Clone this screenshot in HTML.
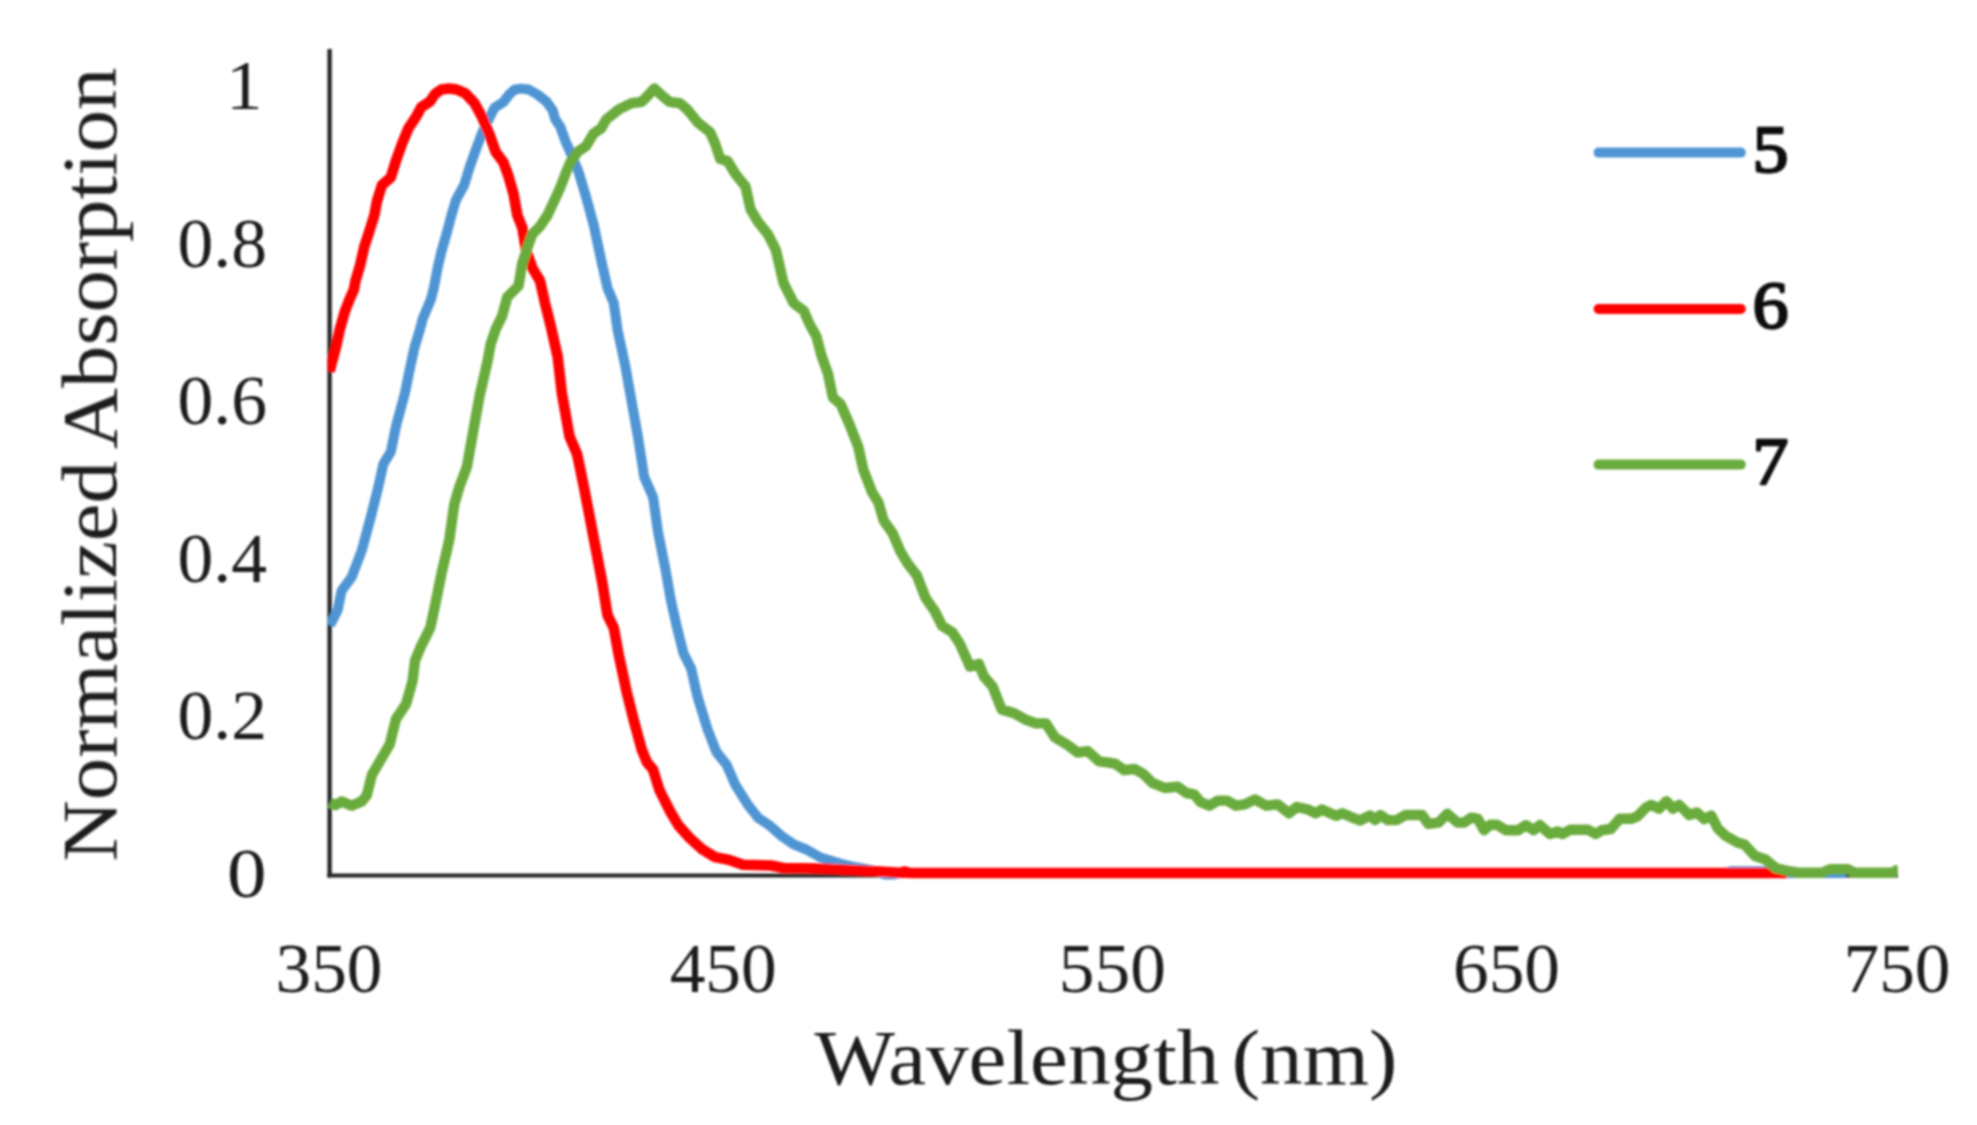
<!DOCTYPE html>
<html lang="en">
<head>
<meta charset="utf-8">
<title>Normalized Absorption vs Wavelength</title>
<style>
  html, body { margin:0; padding:0; background:#ffffff; }
  body { width:1977px; height:1125px; overflow:hidden; }
  svg { display:block; }
  text { font-family: 'Liberation Serif', 'DejaVu Serif', serif; fill:#1c1c1c; }
  .tick { font-size:69px; }
  .title { font-size:78px; }
  .leg text { font-size:67px; font-weight:normal; fill:#101010; stroke:#101010; stroke-width:2.3px; stroke-linejoin:round; }
  .curve { fill:none; stroke-linejoin:round; stroke-linecap:butt; }
</style>
</head>
<body>
<svg width="1977" height="1125" viewBox="0 0 1977 1125">
  <defs>
    <filter id="soft" x="-2%" y="-2%" width="104%" height="104%"><feGaussianBlur stdDeviation="0.9"/></filter>
    <clipPath id="plot"><rect x="327.5" y="40" width="1570.5" height="850"/></clipPath>
  </defs>
  <rect x="0" y="0" width="1977" height="1125" fill="#ffffff"/>
  <g filter="url(#soft)">

  <!-- axes -->
  <line x1="329.6" y1="49" x2="329.6" y2="877.5" stroke="#262626" stroke-width="4.4"/>
  <line x1="327.4" y1="875.5" x2="1898" y2="875.5" stroke="#262626" stroke-width="4"/>

  <!-- series -->
  <g clip-path="url(#plot)">
    <polyline class="curve" stroke="#4f95d3" stroke-width="10" points="330.0,625.3 337.7,610.0 341.5,590.9 351.7,577.0 361.8,550.4 370.7,517.4 378.3,487.0 383.3,464.2 390.9,451.6 396.0,426.3 404.9,393.3 409.6,369.9 414.6,346.9 419.9,329.8 422.8,318.4 427.4,307.8 431.0,299.0 433.8,288.0 437.6,268.1 441.4,251.7 446.5,234.0 451.5,215.0 455.9,200.1 464.2,185.0 469.2,168.5 476.8,147.0 483.1,130.6 489.4,117.9 494.5,107.8 503.4,102.1 509.7,93.9 514.7,89.5 521.6,88.6 528.6,89.5 537.5,94.5 546.4,101.5 552.7,110.3 555.2,119.2 560.3,126.8 565.3,140.7 569.7,150.8 578.4,171.4 586.0,196.8 593.6,224.6 601.2,260.1 607.5,288.0 613.8,303.2 617.6,330.0 625.2,365.5 631.5,400.9 637.9,436.4 644.2,476.9 653.1,497.2 658.1,532.6 665.7,570.6 670.8,600.0 677.1,627.9 683.5,653.2 691.1,668.4 697.4,696.3 707.5,729.2 716.4,752.0 726.5,764.6 735.4,784.9 748.1,805.2 758.2,817.8 769.6,825.4 781.0,835.6 793.7,844.4 806.3,849.5 820.5,857.5 840.8,863.8 857.0,867.5 875.0,871.0 885.0,874.5 893.0,874.5 900.0,873.0 1725.0,873.0 1731.0,871.2 1764.0,871.2 1770.0,873.0 1846.0,873.0"/>
    <polyline class="curve" stroke="#fe0000" stroke-width="10.6" points="329.6,371.5 331.4,364.0 333.6,356.0 336.0,347.0 339.7,329.8 344.9,311.3 349.9,298.5 353.8,290.0 355.5,280.8 360.0,265.6 364.3,246.6 369.3,231.4 374.4,215.0 376.9,201.4 382.0,185.0 390.8,177.4 395.9,160.9 402.2,143.2 408.5,128.1 416.1,116.7 421.2,107.2 430.0,101.5 435.1,93.9 441.4,89.5 449.0,88.6 456.6,89.5 465.4,93.3 474.3,102.8 481.9,116.7 489.4,134.4 495.8,152.1 503.4,162.2 508.4,176.1 513.5,193.8 517.3,215.0 522.3,227.6 526.1,250.4 532.4,268.1 540.0,280.8 545.1,303.5 551.4,328.8 557.7,357.0 561.9,393.3 569.5,436.4 577.1,454.1 583.4,484.5 589.8,517.4 596.1,550.4 602.4,583.3 607.5,615.2 613.8,627.9 618.9,655.7 626.5,691.2 634.1,721.6 641.7,749.4 646.8,762.1 653.1,769.7 659.4,790.0 669.5,810.2 678.4,825.4 689.8,838.1 702.5,849.5 715.1,857.1 727.8,859.6 743.0,864.7 770.9,865.5 783.5,868.0 820.3,868.5 850.0,870.0 880.0,871.5 900.0,872.8 905.0,871.5 910.0,873.0 1787.0,873.0"/>
    <polyline class="curve" stroke="#6aab3c" stroke-width="10.4" points="330.0,802.6 335.2,805.2 341.5,801.4 351.7,805.7 361.8,801.4 366.9,795.0 371.9,774.8 380.8,759.6 389.7,744.4 396.0,719.0 406.1,703.9 412.5,681.1 415.0,660.8 421.3,645.6 430.2,627.9 434.5,608.0 441.6,573.2 449.2,540.2 454.2,504.8 459.3,487.0 466.9,466.8 473.2,431.3 479.6,395.9 487.2,362.9 490.7,344.0 495.8,328.8 502.1,316.2 507.2,297.2 518.5,285.8 522.3,263.1 527.4,247.9 532.4,234.0 540.0,226.4 547.6,215.0 553.9,201.4 560.3,187.5 566.6,171.0 570.8,161.3 578.4,151.2 586.0,146.1 593.6,133.5 601.2,128.4 606.2,119.5 618.9,109.4 631.6,103.1 641.7,101.8 648.0,95.5 654.3,88.4 661.9,95.5 669.5,101.8 679.7,103.1 687.3,109.4 697.4,122.1 710.1,132.2 715.1,143.6 720.2,158.8 727.8,161.3 735.4,174.0 745.5,186.6 750.6,209.4 758.2,222.1 768.3,234.8 775.9,250.0 783.5,282.9 793.7,303.2 803.8,310.8 808.9,322.8 816.5,336.7 821.5,355.7 827.9,373.5 832.9,397.5 840.5,403.9 849.4,424.1 858.3,446.9 863.3,469.7 872.2,492.5 878.5,502.6 883.6,520.4 892.5,533.0 900.1,550.8 907.6,563.4 916.7,575.2 925.6,598.0 934.5,610.7 942.1,625.9 952.2,632.2 959.8,643.6 969.9,666.4 978.8,663.9 983.9,676.5 992.7,686.7 1001.6,709.4 1014.2,713.2 1025.6,719.6 1035.8,723.4 1045.9,723.4 1054.8,737.3 1067.4,744.9 1077.6,752.5 1087.7,751.2 1099.1,761.4 1109.2,762.6 1115.6,763.9 1124.4,770.2 1134.6,769.0 1143.4,774.0 1152.3,782.9 1165.0,788.0 1177.6,786.7 1186.5,793.0 1194.1,794.3 1200.4,801.9 1209.3,805.7 1218.1,800.6 1227.0,800.6 1235.9,805.7 1244.7,804.4 1254.9,799.4 1266.3,805.7 1277.7,804.4 1289.1,813.3 1296.7,807.0 1308.1,809.5 1315.7,813.3 1322.0,809.5 1335.9,815.8 1342.3,813.3 1351.1,817.1 1360.0,820.5 1370.1,815.5 1375.2,820.1 1380.3,815.0 1387.9,820.1 1396.7,820.1 1405.6,815.0 1422.1,815.0 1428.4,823.9 1438.5,822.6 1447.4,813.8 1457.5,822.6 1463.9,822.6 1471.4,817.6 1477.8,818.8 1484.1,830.2 1490.4,824.7 1496.8,824.7 1505.6,830.2 1518.3,830.2 1525.9,825.2 1533.5,830.2 1539.8,825.2 1550.0,834.0 1557.6,831.5 1562.6,834.0 1570.2,829.7 1588.0,829.7 1595.6,834.0 1601.9,830.2 1610.8,829.0 1619.6,818.8 1631.0,818.8 1637.4,816.3 1646.2,807.4 1651.3,804.9 1658.9,808.7 1666.5,801.1 1672.8,808.7 1679.1,804.9 1689.3,815.0 1696.9,812.5 1704.2,819.2 1711.2,815.5 1717.8,828.5 1725.5,835.8 1737.4,842.5 1744.5,844.6 1755.0,856.0 1765.6,859.5 1775.6,868.0 1789.0,871.2 1798.2,872.7 1822.0,872.7 1830.0,869.3 1848.0,869.3 1854.5,872.7 1892.4,872.7 1896.6,870.2 1898.0,870.0"/>
  </g>

  <!-- y tick labels -->
  <g class="tick" text-anchor="end">
    <text x="262.5" y="109" textLength="36.5" lengthAdjust="spacingAndGlyphs">1</text>
    <text x="267" y="266.6" textLength="89.5" lengthAdjust="spacingAndGlyphs">0.8</text>
    <text x="267" y="424.2" textLength="89.5" lengthAdjust="spacingAndGlyphs">0.6</text>
    <text x="267" y="581.8" textLength="89.5" lengthAdjust="spacingAndGlyphs">0.4</text>
    <text x="267" y="739.4" textLength="89.5" lengthAdjust="spacingAndGlyphs">0.2</text>
    <text x="266.5" y="897" textLength="39.5" lengthAdjust="spacingAndGlyphs">0</text>
  </g>

  <!-- x tick labels -->
  <g class="tick" text-anchor="middle" style="font-size:70px">
    <text x="329" y="992" textLength="107" lengthAdjust="spacingAndGlyphs">350</text>
    <text x="723.2" y="992" textLength="107" lengthAdjust="spacingAndGlyphs">450</text>
    <text x="1112.3" y="992" textLength="107" lengthAdjust="spacingAndGlyphs">550</text>
    <text x="1506.5" y="992" textLength="107" lengthAdjust="spacingAndGlyphs">650</text>
    <text x="1897" y="992" textLength="107" lengthAdjust="spacingAndGlyphs">750</text>
  </g>

  <!-- axis titles -->
  <text class="title" style="word-spacing:-8.3px" x="814.5" y="1083.5" textLength="582.9" lengthAdjust="spacingAndGlyphs">Wavelength (nm)</text>
  <text class="title" style="word-spacing:-4.3px" transform="translate(116,861.5) rotate(-90)" x="0" y="0" textLength="794" lengthAdjust="spacingAndGlyphs">Normalized Absorption</text>

  <!-- legend -->
  <g stroke-width="10" stroke-linecap="round">
    <line x1="1598.6" y1="152.6" x2="1740.8" y2="152.6" stroke="#4f95d3"/>
    <line x1="1598.6" y1="309" x2="1740.8" y2="309" stroke="#fe0000"/>
    <line x1="1598.6" y1="464.6" x2="1740.8" y2="464.6" stroke="#6aab3c"/>
  </g>
  <g class="leg">
    <text x="1752.5" y="172.2" textLength="36" lengthAdjust="spacingAndGlyphs">5</text>
    <text x="1752.5" y="327.8" textLength="36" lengthAdjust="spacingAndGlyphs">6</text>
    <text x="1752.5" y="483.7" textLength="36" lengthAdjust="spacingAndGlyphs">7</text>
  </g>
  </g>
</svg>
</body>
</html>
